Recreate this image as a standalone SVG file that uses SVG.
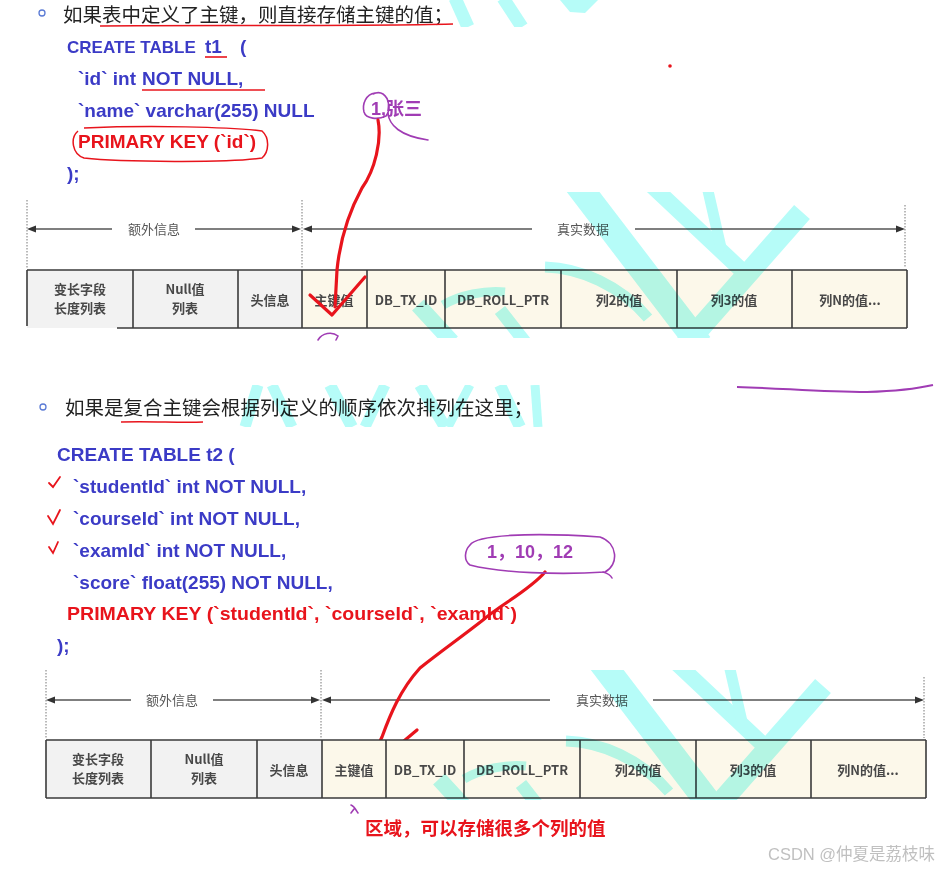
<svg xmlns="http://www.w3.org/2000/svg" width="944" height="869" viewBox="0 0 944 869">
<style>
.hd{font-family:"Noto Sans CJK SC","Noto Sans",sans-serif;font-size:19.5px;fill:#222}
.code{font-family:"Liberation Sans","Noto Sans CJK SC",sans-serif;font-size:19px;font-weight:bold;fill:#3b3bc6}
.red{fill:#e8141c}
.pur{font-family:"Liberation Sans","Noto Sans CJK SC",sans-serif;font-size:18px;font-weight:bold;fill:#a03cb4}
.cell{stroke:#3a3a3a;stroke-width:1.6}
.g{fill:#f2f2f2}
.c{fill:#fcf8ea}
.ct{font-family:"Noto Sans CJK SC","Noto Sans",sans-serif;font-size:13px;font-weight:bold;fill:#484848;text-anchor:middle}
.dim{font-family:"Noto Sans CJK SC",sans-serif;font-size:13px;fill:#555;text-anchor:middle}
.dl{stroke:#555;stroke-width:1.5;fill:none}
.dot{stroke:#777;stroke-width:1;stroke-dasharray:1.5 1.5;fill:none}
.tri{fill:#333}
.ink{fill:none;stroke:#e8141c;stroke-width:3.2;stroke-linecap:round;stroke-linejoin:round}
.pink{fill:none;stroke:#a03cb4;stroke-width:1.6;stroke-linecap:round}
.wm{stroke:#b6fcf8;fill:none}
</style>
<defs>
<clipPath id="bandTop"><rect x="0" y="192" width="944" height="146"/></clipPath>
<clipPath id="bandBot"><rect x="0" y="670" width="944" height="130"/></clipPath>
<clipPath id="bandHead"><rect x="0" y="0" width="944" height="27"/></clipPath>
<clipPath id="bandMid"><rect x="0" y="385" width="944" height="42"/></clipPath>
<g id="wmShape" class="wm">
<line x1="574" y1="180" x2="700" y2="345" stroke-width="26"/>
<line x1="648" y1="182" x2="752" y2="280" stroke-width="16"/>
<line x1="706" y1="182" x2="722" y2="252" stroke-width="11"/>
<line x1="802" y1="212" x2="685" y2="345" stroke-width="21"/>
<path d="M545,267 C580,268 620,285 648,318" stroke-width="11"/>
<line x1="418" y1="305" x2="452" y2="342" stroke-width="16"/>
<path d="M443,305 C460,295 485,290 505,292" stroke-width="9"/>
<line x1="500" y1="310" x2="525" y2="342" stroke-width="13"/>
</g>
</defs>

<!-- top heading -->
<g id="heading1">
<circle cx="42" cy="13" r="3" fill="none" stroke="#5b7bd5" stroke-width="1.3"/>
<text class="hd" x="63" y="22">如果表中定义了主键，则直接存储主键的值；</text>
<path d="M100,26 C200,25 350,26.5 453,24" fill="none" stroke="#e8141c" stroke-width="1.5"/>
</g>

<g id="code1">
<text class="code" x="67" y="53" style="font-size:17px">CREATE TABLE</text>
<text class="code" x="205" y="53">t1</text>
<text class="code" x="240" y="53">(</text>
<line x1="205" y1="57" x2="227" y2="57" stroke="#e8141c" stroke-width="1.6"/>
<text class="code" x="78" y="85" textLength="58" lengthAdjust="spacingAndGlyphs">`id` int</text>
<text class="code" x="142" y="85">NOT NULL,</text>
<line x1="142" y1="90" x2="265" y2="90" stroke="#e8141c" stroke-width="1.6"/>
<text class="code" x="78" y="117">`name` varchar(255) NULL</text>
<text class="code red" x="78" y="148">PRIMARY KEY (`id`)</text>
<path d="M84,128 C150,125 230,127 262,131 C270,138 269,152 262,158 C230,163 120,162 84,158 C72,154 70,138 78,131" fill="none" stroke="#e8141c" stroke-width="1.5"/>
<text class="code" x="67" y="180">);</text>
</g>

<g id="note1">
<text class="pur" x="371" y="115">1,张三</text>
<path class="pink" d="M375,93 C366,94 362,104 364,112 C366,119 378,120 386,116 C391,110 389,98 383,94 C380,92 377,92 373,94"/>
<path class="pink" d="M388,113 C389,125 400,136 428,140"/>
<circle cx="670" cy="66" r="1.8" fill="#e8141c"/>
</g>

<!-- top table -->
<g id="table1">
<rect class="g" x="27" y="270" width="106" height="58"/>
<rect class="g" x="133" y="270" width="105" height="58"/>
<rect class="g" x="238" y="270" width="64" height="58"/>
<rect class="c" x="302" y="270" width="605" height="58"/>
<g class="cell">
<line x1="27" y1="270" x2="907" y2="270"/>
<line x1="117" y1="328" x2="907" y2="328"/>
<line x1="27" y1="270" x2="27" y2="326"/>
<line x1="133" y1="270" x2="133" y2="328"/>
<line x1="238" y1="270" x2="238" y2="328"/>
<line x1="302" y1="270" x2="302" y2="328"/>
<line x1="367" y1="270" x2="367" y2="328"/>
<line x1="445" y1="270" x2="445" y2="328"/>
<line x1="561" y1="270" x2="561" y2="328"/>
<line x1="677" y1="270" x2="677" y2="328"/>
<line x1="792" y1="270" x2="792" y2="328"/>
<line x1="907" y1="270" x2="907" y2="328"/>
</g>
<text class="ct" x="80" y="294">变长字段</text>
<text class="ct" x="80" y="313">长度列表</text>
<text class="ct" x="185" y="294">Null值</text>
<text class="ct" x="185" y="313">列表</text>
<text class="ct" x="270" y="305">头信息</text>
<text class="ct" x="334" y="305">主键值</text>
<text class="ct" x="406" y="305">DB_TX_ID</text>
<text class="ct" x="503" y="305">DB_ROLL_PTR</text>
<text class="ct" x="619" y="305">列2的值</text>
<text class="ct" x="734" y="305">列3的值</text>
<text class="ct" x="850" y="305">列N的值...</text>
</g>

<g id="connectors">
<line class="dot" x1="27" y1="200" x2="27" y2="268"/>
<line class="dot" x1="302" y1="200" x2="302" y2="268"/>
<line class="dot" x1="905" y1="205" x2="905" y2="268"/>
<line class="dl" x1="33" y1="229" x2="112" y2="229"/>
<line class="dl" x1="195" y1="229" x2="296" y2="229"/>
<line class="dl" x1="309" y1="229" x2="532" y2="229"/>
<line class="dl" x1="635" y1="229" x2="899" y2="229"/>
<polygon class="tri" points="27,229 36,225.5 36,232.5"/>
<polygon class="tri" points="301,229 292,225.5 292,232.5"/>
<polygon class="tri" points="303,229 312,225.5 312,232.5"/>
<polygon class="tri" points="905,229 896,225.5 896,232.5"/>
<text class="dim" x="154" y="234">额外信息</text>
<text class="dim" x="583" y="234">真实数据</text>
<line class="dot" x1="46" y1="670" x2="46" y2="738"/>
<line class="dot" x1="321" y1="670" x2="321" y2="738"/>
<line class="dot" x1="924" y1="677" x2="924" y2="738"/>
<line class="dl" x1="52" y1="700" x2="131" y2="700"/>
<line class="dl" x1="213" y1="700" x2="315" y2="700"/>
<line class="dl" x1="328" y1="700" x2="550" y2="700"/>
<line class="dl" x1="653" y1="700" x2="918" y2="700"/>
<polygon class="tri" points="46,700 55,696.5 55,703.5"/>
<polygon class="tri" points="320,700 311,696.5 311,703.5"/>
<polygon class="tri" points="322,700 331,696.5 331,703.5"/>
<polygon class="tri" points="924,700 915,696.5 915,703.5"/>
<text class="dim" x="172" y="705">额外信息</text>
<text class="dim" x="602" y="705">真实数据</text>
<path class="ink" d="M378,120 C382,140 375,170 362,188 C350,210 340,240 337,270 L335,307"/>
<path class="ink" d="M310,295 L332,315 L365,277"/>
<path class="ink" d="M545,572 C530,590 500,605 483,620 C460,638 440,652 420,668 C400,690 390,715 382,737 L370,762"/>
<path class="ink" d="M361,745 L361,777 L417,730"/>
</g>

<path class="pink" d="M318,340 C322,333 332,331 338,336 L336,340"/>

<!-- bottom heading -->
<g id="heading2">
<circle cx="43" cy="407" r="3" fill="none" stroke="#5b7bd5" stroke-width="1.3"/>
<text class="hd" x="65" y="415">如果是复合主键会根据列定义的顺序依次排列在这里；</text>
<path d="M121,422 C150,421 180,423 203,422" fill="none" stroke="#e8141c" stroke-width="1.5"/>
<path d="M737,387 C780,388 820,392 867,392 C900,391 920,388 933,385" fill="none" stroke="#a03cb4" stroke-width="2"/>
</g>

<g id="code2">
<text class="code" x="57" y="461">CREATE TABLE t2 (</text>
<text class="code" x="73" y="493">`studentId` int NOT NULL,</text>
<text class="code" x="73" y="525">`courseId` int NOT NULL,</text>
<text class="code" x="73" y="557">`examId` int NOT NULL,</text>
<text class="code" x="73" y="589">`score` float(255) NOT NULL,</text>
<text class="code red" x="67" y="620" textLength="450" lengthAdjust="spacingAndGlyphs">PRIMARY KEY (`studentId`, `courseId`, `examId`)</text>
<text class="code" x="57" y="652">);</text>
<path d="M49,483 L53,487 L60,477" fill="none" stroke="#e8141c" stroke-width="1.8" stroke-linecap="round"/>
<path d="M48,516 L53,524 L60,510" fill="none" stroke="#e8141c" stroke-width="1.8" stroke-linecap="round"/>
<path d="M49,547 L53,553 L58,542" fill="none" stroke="#e8141c" stroke-width="1.8" stroke-linecap="round"/>
</g>

<g id="note2">
<path class="pink" d="M470,545 C476,535 530,532 600,537 C618,543 619,565 605,572 C560,575 500,573 470,565 C463,560 465,550 470,545"/>
<path class="pink" d="M603,572 Q610,574 612,578"/>
<text class="pur" x="487" y="558">1，10，12</text>
</g>

<!-- bottom table -->
<g id="table2">
<rect class="g" x="46" y="740" width="105" height="58"/>
<rect class="g" x="151" y="740" width="106" height="58"/>
<rect class="g" x="257" y="740" width="65" height="58"/>
<rect class="c" x="322" y="740" width="604" height="58"/>
<g class="cell">
<line x1="46" y1="740" x2="926" y2="740"/>
<line x1="46" y1="798" x2="926" y2="798"/>
<line x1="46" y1="740" x2="46" y2="798"/>
<line x1="151" y1="740" x2="151" y2="798"/>
<line x1="257" y1="740" x2="257" y2="798"/>
<line x1="322" y1="740" x2="322" y2="798"/>
<line x1="386" y1="740" x2="386" y2="798"/>
<line x1="464" y1="740" x2="464" y2="798"/>
<line x1="580" y1="740" x2="580" y2="798"/>
<line x1="696" y1="740" x2="696" y2="798"/>
<line x1="811" y1="740" x2="811" y2="798"/>
<line x1="926" y1="740" x2="926" y2="798"/>
</g>
<text class="ct" x="98" y="764">变长字段</text>
<text class="ct" x="98" y="783">长度列表</text>
<text class="ct" x="204" y="764">Null值</text>
<text class="ct" x="204" y="783">列表</text>
<text class="ct" x="289" y="775">头信息</text>
<text class="ct" x="354" y="775">主键值</text>
<text class="ct" x="425" y="775">DB_TX_ID</text>
<text class="ct" x="522" y="775">DB_ROLL_PTR</text>
<text class="ct" x="638" y="775">列2的值</text>
<text class="ct" x="753" y="775">列3的值</text>
<text class="ct" x="868" y="775">列N的值...</text>
</g>

<path class="pink" d="M351,805 C354,806 356,810 358,813 M354,809 L351,813"/>
<text x="365" y="835" font-family="Noto Sans CJK SC, sans-serif" font-size="18.5" font-weight="bold" fill="#e8141c">区域，可以存储很多个列的值</text>
<text x="768" y="860" font-family="Liberation Sans, Noto Sans CJK SC, sans-serif" font-size="16.5" fill="#c0c0c0">CSDN @仲夏是荔枝味</text>

<!-- watermark -->
<g style="mix-blend-mode:multiply">
<g clip-path="url(#bandTop)"><use href="#wmShape"/></g>
<g clip-path="url(#bandBot)"><use href="#wmShape" transform="translate(21,474)"/></g>
<g clip-path="url(#bandHead)" class="wm">
<line x1="455" y1="-2" x2="468" y2="27" stroke-width="13"/>
<line x1="503" y1="-2" x2="522" y2="27" stroke-width="13"/>
<polygon points="560,0 598,0 585,13 570,12" fill="#b6fcf8" stroke="none"/>
</g>
<g clip-path="url(#bandMid)" class="wm">
<line x1="258" y1="385" x2="245" y2="427" stroke-width="11"/>
<line x1="272" y1="385" x2="292" y2="427" stroke-width="11"/>
<line x1="330" y1="385" x2="352" y2="427" stroke-width="12"/>
<line x1="385" y1="385" x2="365" y2="427" stroke-width="11"/>
<line x1="420" y1="385" x2="445" y2="427" stroke-width="12"/>
<line x1="470" y1="385" x2="448" y2="427" stroke-width="9"/>
<line x1="500" y1="385" x2="520" y2="427" stroke-width="12"/>
<line x1="535" y1="385" x2="538" y2="427" stroke-width="9"/>
</g>
</g>
</svg>
